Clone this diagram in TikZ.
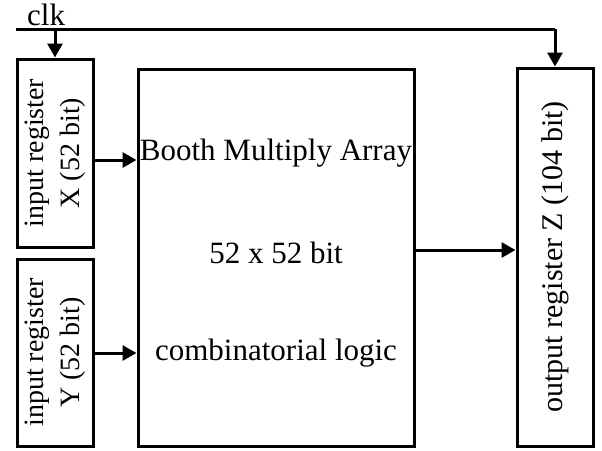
\documentclass[tikz,border=0pt]{standalone}
\usepackage{fontspec}
\setmainfont{Liberation Serif}
\usetikzlibrary{arrows.meta}
\begin{document}
\begin{tikzpicture}[x=1pt,y=-1pt,
  box/.style={draw,line width=3pt,inner sep=0pt},
  wire/.style={line width=3pt,-{Triangle[length=14pt,width=15pt]}},
  regtext/.style={rotate=90,align=center,font=\fontsize{28}{36}\selectfont}]
\useasboundingbox (0,0) rectangle (602,450);
\node[box,minimum width=76pt,minimum height=188pt] (X) at (55,153) {};
\node[regtext] at (X.center) {input register\\X (52 bit)};
\node[box,minimum width=76pt,minimum height=187pt] (Y) at (55,352.5) {};
\node[regtext] at (Y.center) {input register\\Y (52 bit)};
\node[box,minimum width=276pt,minimum height=377pt] (M) at (276,257.5) {};
\node[font=\fontsize{31}{34}\selectfont] at (276,153) {Booth Multiply Array};
\node[font=\fontsize{31}{34}\selectfont] at (276,253) {52 x 52 bit};
\node[font=\fontsize{31}{34}\selectfont] at (276,353) {combinatorial logic};
\node[box,minimum width=76pt,minimum height=378pt] (Z) at (555,257) {};
\node[regtext,font=\fontsize{30}{36}\selectfont] at (Z.center) {output register Z (104 bit)};
\node[anchor=base west,font=\fontsize{31}{34}\selectfont,inner sep=0pt] (clk) at (27,25) {clk};
\coordinate (c0) at (16,29);
\coordinate (c1) at (55,29);
\coordinate (c2) at (555,29);
\draw[line width=3pt] (c0) -- (c2);
\draw[wire] (c1) -- (X.north);
\draw[wire] (c2) -- (Z.north);
\draw[wire] (X.east |- 0,160) -- (M.west |- 0,160);
\draw[wire] (Y.east |- 0,353) -- (M.west |- 0,353);
\draw[wire] (M.east |- 0,250) -- (Z.west |- 0,250);
\end{tikzpicture}
\end{document}
